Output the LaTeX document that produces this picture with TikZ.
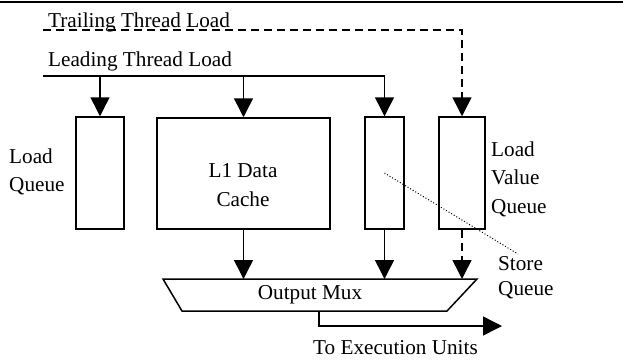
\documentclass[tikz,border=0pt]{standalone}
\usepackage{fontspec}
\setmainfont{Liberation Serif}
\usetikzlibrary{arrows.meta}

\begin{document}
\begin{tikzpicture}[x=1pt, y=-1pt,
  box/.style={draw, line width=1.5pt, inner sep=0pt},
  wire/.style={line width=1.5pt},
  trail/.style={wire, dash pattern=on 8pt off 5pt},
  lbl/.style={font=\fontsize{21.2}{28.5}\selectfont, inner sep=0pt},
  >={Triangle[length=19pt, width=19pt]}]
\useasboundingbox (0,0) rectangle (623,360);
\draw[line width=2.5pt] (0,2) -- (623,2);

% queues and cache
\node[box, minimum width=48pt, minimum height=112pt] (lq) at (100,173) {};
\node[box, minimum width=173pt, minimum height=111pt] (l1) at (243.5,173.5) {};
\node[box, minimum width=39pt, minimum height=112pt] (sq) at (384.5,173) {};
\node[box, minimum width=46pt, minimum height=112pt] (lvq) at (462,173) {};

% output mux
\coordinate (muxtl) at (163,279);
\coordinate (muxtr) at (477,279);
\coordinate (muxbr) at (447,311);
\coordinate (muxbl) at (182,311);
\coordinate (muxout) at (319,311);
\draw[wire, line join=miter] (muxtl) -- (muxtr) -- (muxbr) -- (muxbl) -- cycle;

\node[lbl, anchor=base west] (trailtxt) at (48,27) {Trailing Thread Load};
\node[lbl, anchor=base west] (leadtxt) at (48,66) {Leading Thread Load};
\node[lbl, align=left, anchor=west] (lqtxt) at (9,172) {Load\\Queue};
\node[lbl, align=center] (l1txt) at (243,185) {L1 Data\\Cache};
\node[lbl, align=left, anchor=west] (lvqtxt) at (491,179) {Load\\Value\\Queue};
\node[lbl, align=left, anchor=west, font=\fontsize{21.2}{25}\selectfont] (sqtxt) at (498,278) {Store\\Queue};
\node[lbl] (muxtxt) at (310,295) {Output Mux};
\node[lbl, anchor=west] (exectxt) at (313,348) {To Execution Units};

\coordinate (trail) at (43,30);
\coordinate (lead) at (43,76);
\coordinate (exec) at (502,326);
\coordinate (sqtip) at (518,254);

% load paths in
\draw[trail, ->] (trail) -| (lvq.north);
\draw[wire, ->] (lead) -| (sq.north);
\draw[wire, ->] (lq.north |- lead) -- (lq.north);
\draw[wire, ->] (l1.north |- lead) -- (l1.north);

% into the mux and out
\draw[wire, ->] (l1.south) -- (l1.south |- muxtl);
\draw[wire, ->] (sq.south) -- (sq.south |- muxtl);
\draw[trail, ->] (lvq.south) -- (lvq.south |- muxtl);
\draw[wire, ->] (muxout) |- (exec);

\draw[line width=1pt, dash pattern=on 1pt off 2pt] (sq.center) -- (sqtip);
\end{tikzpicture}
\end{document}
